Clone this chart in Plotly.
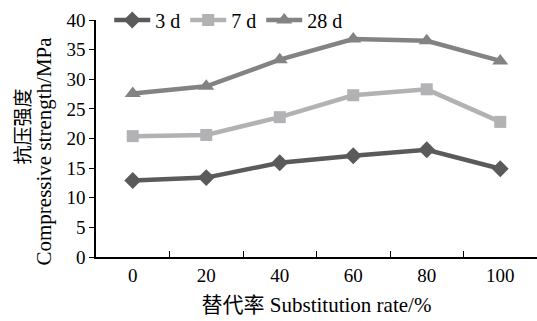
import plotly.graph_objects as go

# Substitution rate (%) and compressive strength (MPa) at each curing age
rates = ["0", "20", "40", "60", "80", "100"]
strength_3d = [12.9, 13.4, 15.9, 17.1, 18.1, 14.9]
strength_7d = [20.4, 20.6, 23.6, 27.3, 28.3, 22.8]
strength_28d = [27.6, 28.8, 33.3, 36.8, 36.5, 33.1]
y_ticks = [0, 5, 10, 15, 20, 25, 30, 35, 40]

series = [
    ("3 d", strength_3d, "#5a5a5a", "diamond", 13),
    ("7 d", strength_7d, "#b2b2b4", "square", 12),
    ("28 d", strength_28d, "#838383", "triangle-up", 14),
]

font_family = "Liberation Serif, Times New Roman, Noto Sans CJK SC, serif"

fig = go.Figure()
for name, vals, color, symbol, size in series:
    fig.add_trace(go.Scatter(
        x=rates, y=vals, name=name, mode="lines+markers",
        line=dict(color=color, width=4.5),
        marker=dict(symbol=symbol, size=size, color=color),
    ))

# Two-line vertical y-axis title with tight line spacing
fig.add_annotation(
    text="抗压强度", xref="paper", yref="paper", x=0, y=0.5,
    xshift=-75, yshift=12, xanchor="center", yanchor="middle",
    textangle=-90, showarrow=False,
    font=dict(family="Noto Sans CJK SC, serif", size=19, color="black"),
)
fig.add_annotation(
    text="Compressive strength/MPa", xref="paper", yref="paper", x=0, y=0.5,
    xshift=-53, yshift=-13, xanchor="center", yanchor="middle",
    textangle=-90, showarrow=False,
    font=dict(family=font_family, size=21, color="black"),
)

fig.update_layout(
    width=537, height=321,
    margin=dict(l=96, r=0, t=18, b=64),
    paper_bgcolor="white", plot_bgcolor="white",
    font=dict(family=font_family, size=18, color="black"),
    showlegend=True,
    legend=dict(
        orientation="h", x=0.03, y=1.0, xanchor="left", yanchor="middle",
        font=dict(size=20), bgcolor="rgba(0,0,0,0)",
        itemwidth=36, tracegroupgap=0,
    ),
    xaxis=dict(
        type="category", range=[-0.5, 5.5],
        showline=True, linecolor="black", linewidth=1.5,
        ticks="inside", tickson="boundaries", ticklen=6, tickcolor="black",
        showgrid=False, zeroline=False,
        tickfont=dict(size=19),
        title=dict(text="替代率 Substitution rate/%", font=dict(size=21), standoff=13),
    ),
    yaxis=dict(
        range=[0, 40], tickvals=y_ticks,
        showline=True, linecolor="black", linewidth=1.5,
        ticks="outside", ticklen=5, tickcolor="black",
        showgrid=False, zeroline=False,
        tickfont=dict(size=19),
    ),
)

fig.write_html("out.html")
